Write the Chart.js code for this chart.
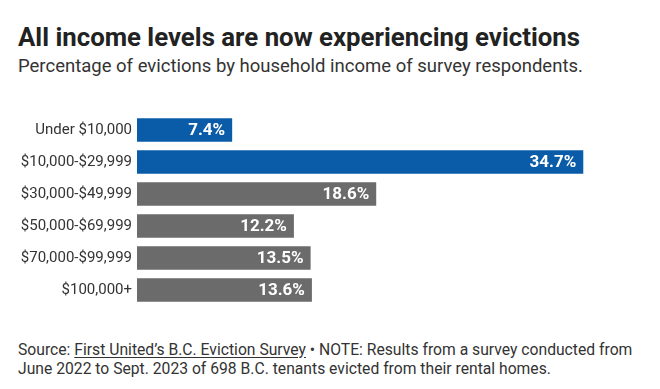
<!DOCTYPE html>
<html>
<head>
<meta charset="utf-8">
<script src="https://cdn.jsdelivr.net/npm/chart.js@4"></script>
<style>
  body { margin: 0; background: #fff; font-family: Roboto, sans-serif; }
  #wrap { position: relative; width: 660px; height: 389px; overflow: hidden; }
  .txt { position: absolute; left: 18px; white-space: nowrap; transform-origin: left top; }
  #title { top: 24.8px; font-size: 25.8px; line-height: 25.8px; font-weight: 700; color: #222; }
  #sub { top: 57px; font-size: 18.5px; line-height: 18.5px; color: #333; }
  #foot { top: 339.5px; font-size: 15.7px; line-height: 19.5px; color: #333; }
  #foot u { text-underline-offset: 2px; }
  #box { position: absolute; left: 0; top: 100px; width: 660px; height: 220px; }
</style>
</head>
<body>
<div id="wrap">
  <div id="title" class="txt">All income levels are now experiencing evictions</div>
  <div id="sub" class="txt">Percentage of evictions by household income of survey respondents.</div>
  <div id="box"><canvas id="myChart"></canvas></div>
  <div id="foot" class="txt">Source: <u>First United’s B.C. Eviction Survey</u> • NOTE: Results from a survey conducted from<br>June 2022 to Sept. 2023 of 698 B.C. tenants evicted from their rental homes.</div>
</div>
<script>
const incomeLabels = ["Under $10,000", "$10,000-$29,999", "$30,000-$49,999", "$50,000-$69,999", "$70,000-$99,999", "$100,000+"];
const evictionPct = [7.4, 34.7, 18.6, 12.2, 13.5, 13.6];
const barColors = ["#0b5ca8", "#0b5ca8", "#6b6b6b", "#6b6b6b", "#6b6b6b", "#6b6b6b"];

// white value text at the end of each bar
const valueLabels = {
  id: "valueLabels",
  afterDatasetsDraw(chart) {
    const ctx = chart.ctx;
    const meta = chart.getDatasetMeta(0);
    ctx.save();
    ctx.fillStyle = "#fff";
    ctx.font = "bold 17px Roboto";
    ctx.textAlign = "right";
    ctx.textBaseline = "middle";
    meta.data.forEach((bar, i) => {
      ctx.fillText(evictionPct[i].toFixed(1) + "%", bar.x - 7, bar.y + 1);
    });
    ctx.restore();
  },
};

const config = {
  type: "bar",
  data: {
    labels: incomeLabels,
    datasets: [
      {
        data: evictionPct,
        backgroundColor: barColors,
        barPercentage: 0.74,
        categoryPercentage: 1,
      },
    ],
  },
  options: {
    indexAxis: "y",
    responsive: true,
    maintainAspectRatio: false,
    animation: false,
    layout: { padding: { top: 6, bottom: 7, left: 0, right: 60 } },
    plugins: { legend: { display: false }, tooltip: { enabled: false } },
    scales: {
      x: { display: false, min: 0, max: 36 },
      y: {
        afterFit: (scale) => { scale.width = 137; },
        grid: { display: false, drawTicks: false },
        border: { display: false },
        ticks: { color: "#333", padding: 5, font: { family: "Roboto", size: 15 } },
      },
    },
  },
  plugins: [valueLabels],
};

new Chart(document.getElementById("myChart"), config);
</script>
</body>
</html>
